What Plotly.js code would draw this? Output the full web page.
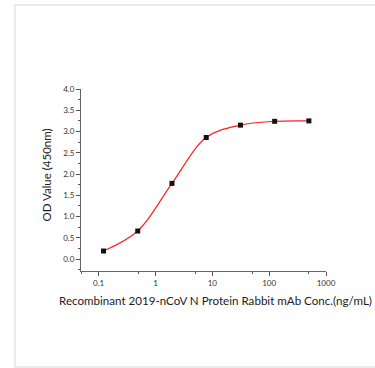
<!DOCTYPE html>
<html><head><meta charset="utf-8">
<script src="https://cdn.plot.ly/plotly-3.0.1.min.js"></script>
<style>
html,body{margin:0;padding:0;background:#fff;}
#frame{position:absolute;left:14px;top:4px;width:370px;height:360px;border-left:2px solid #ebebeb;border-top:2px solid #ebebeb;border-bottom:2px solid #ebebeb;}
#chart{position:absolute;left:0;top:0;width:375px;height:368px;}
</style></head>
<body>
<div id="frame"></div>
<div id="chart"></div>
<script>
const conc = [0.122, 0.488, 1.953, 7.8125, 31.25, 125, 500];
const od = [0.19, 0.66, 1.78, 2.86, 3.15, 3.24, 3.25];
const xTickVals = [0.1, 1, 10, 100, 1000];
const xTickText = ['0.1', '1', '10', '100', '1000'];
const xMinorVals = [0.05, 0.5, 5, 50, 500];
const xTitle = 'Recombinant 2019-nCoV N Protein Rabbit mAb Conc.(ng/mL)';
const yTitle = 'OD Value (450nm)';

const fit = {x: conc, y: od, mode: 'lines', type: 'scatter',
  line: {color: '#ff2020', width: 1.2, shape: 'spline', smoothing: 1}, hoverinfo: 'skip'};
const pts = {x: conc, y: od, mode: 'markers', type: 'scatter',
  marker: {symbol: 'square', size: 5, color: '#111'}};

const font = {family: 'Lato, "Open Sans", sans-serif', color: '#222'};
const layout = {
  width: 375, height: 368,
  margin: {l: 81, r: 49, t: 89, b: 97},
  paper_bgcolor: 'rgba(0,0,0,0)', plot_bgcolor: 'rgba(0,0,0,0)',
  showlegend: false,
  font: font,
  xaxis: {type: 'log', range: [Math.log10(0.049), 3], tickmode: 'array',
    tickvals: xTickVals, ticktext: xTickText, ticks: 'outside', ticklen: 4, tickcolor: '#555',
    showline: true, linecolor: '#666', linewidth: 1, showgrid: false, zeroline: false,
    tickfont: {size: 8, color: '#333'},
    minor: {tickmode: 'array', tickvals: xMinorVals, ticks: 'outside', ticklen: 2, tickcolor: '#555', showgrid: false}},
  yaxis: {range: [-0.28, 4.0], tickmode: 'linear', tick0: 0, dtick: 0.5, tickformat: '.1f',
    ticks: 'outside', ticklen: 4, tickcolor: '#555',
    showline: true, linecolor: '#666', linewidth: 1, showgrid: false, zeroline: false,
    tickfont: {size: 8, color: '#333'},
    minor: {dtick: 0.25, ticks: 'outside', ticklen: 2, tickcolor: '#555', showgrid: false}},
  annotations: [
    {text: xTitle, xref: 'paper', yref: 'paper', x: 0.551, y: -0.16, xanchor: 'center', yanchor: 'middle',
      showarrow: false, font: {size: 11.6, color: '#222'}},
    {text: yTitle, xref: 'paper', yref: 'paper', x: -0.139, y: 0.53, xanchor: 'center', yanchor: 'middle',
      textangle: -90, showarrow: false, font: {size: 11.5, color: '#222'}}
  ]
};
Plotly.newPlot('chart', [fit, pts], layout, {displayModeBar: false, staticPlot: true});
</script>
</body></html>
